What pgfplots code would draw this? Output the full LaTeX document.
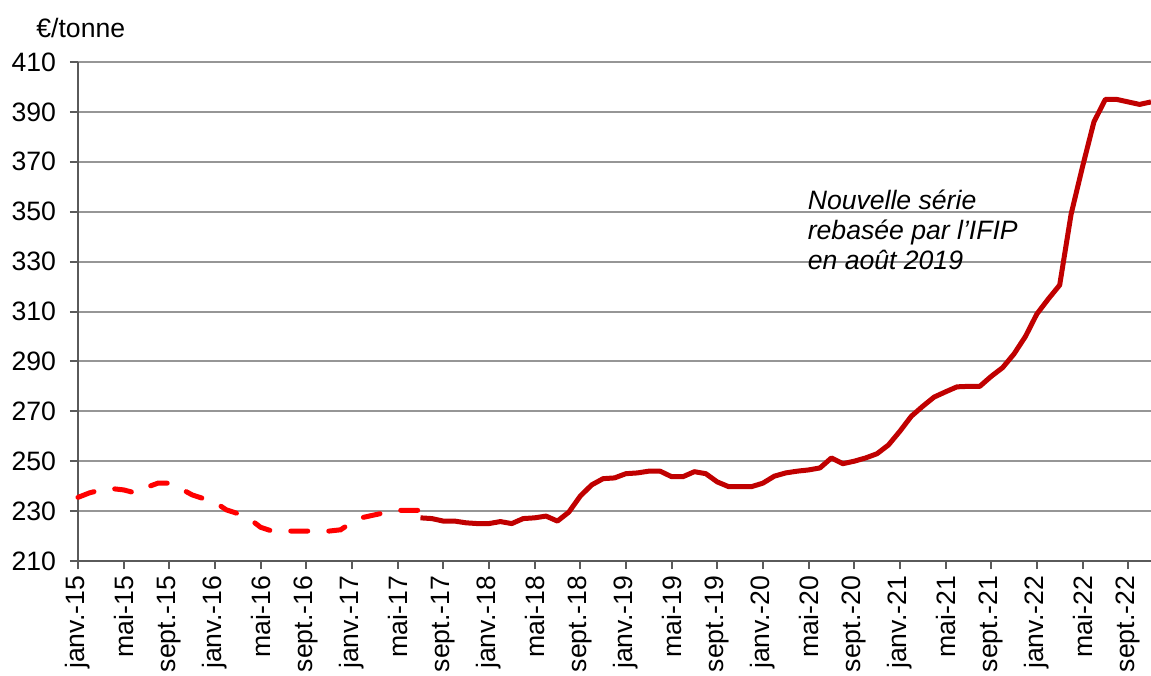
\documentclass[border=0pt]{standalone}
\usepackage{pgfplots}
\pgfplotsset{compat=1.18}
\usepackage{fontspec}
\setmainfont{Liberation Sans}
\definecolor{darkred}{RGB}{192,0,0}
\definecolor{gridgray}{RGB}{150,150,150}
\definecolor{axisgray}{RGB}{90,90,90}
\begin{document}
\begin{tikzpicture}
\path[use as bounding box] (-39pt,-57pt) rectangle (536.5pt,280.5pt);
\begin{axis}[
    at={(0,0)}, anchor=south west,
    scale only axis,
    width=536.5pt, height=249.5pt,
    xmin=0, xmax=94,
    ymin=210, ymax=410,
    axis x line*=bottom, axis y line*=left,
    axis line style={axisgray, line width=1pt, -},
    ytick={210,230,...,410},
    ymajorgrids,
    grid style={gridgray, line width=1pt},
    xtick={0,4,...,92},
    xticklabels={janv.-15,mai-15,sept.-15,janv.-16,mai-16,sept.-16,janv.-17,mai-17,sept.-17,janv.-18,mai-18,sept.-18,janv.-19,mai-19,sept.-19,janv.-20,mai-20,sept.-20,janv.-21,mai-21,sept.-21,janv.-22,mai-22,sept.-22},
    tick align=outside,
    major tick length=4pt,
    tick style={axisgray, line width=1pt},
    tick label style={font=\fontsize{13.3}{16}\selectfont, black},
    /pgf/number format/assume math mode=true,
    yticklabel style={xshift=-3.5pt},
    xticklabel style={rotate=90, anchor=east},
    clip=false,
]
% ancienne série (pointillés)
\addplot[red, line width=2.5pt, line cap=round, dash pattern=on 8.5pt off 10.5pt] coordinates {
(0,235.5) (1,237.3) (2,238.5) (3,239) (4,238.5) (5,237.3) (6,239.5) (7,241.2)
(8,241.2) (9,239) (10,236.5) (11,235) (12,233.5) (13,230.5) (14,229) (15,227)
(16,223.5) (17,222) (18,222) (19,222) (20,222) (21,222) (22,222) (23,222.5)
(24,225.5) (25,227.5) (26,228.5) (27,229.5) (28,230.3) (29,230.3) (30,230.3)
};
% nouvelle série IFIP
\addplot[darkred, line width=2.5pt, line join=round] coordinates {
(30,227.3) (31,227) (32,226) (33,226) (34,225.3) (35,225) (36,225) (37,225.8)
(38,225) (39,227) (40,227.3) (41,228) (42,226) (43,229.6) (44,236) (45,240.5)
(46,243) (47,243.3) (48,245) (49,245.3) (50,246) (51,246) (52,243.8) (53,243.8)
(54,245.8) (55,245) (56,241.7) (57,239.8) (58,239.8) (59,239.8) (60,241.2) (61,244)
(62,245.3) (63,246) (64,246.5) (65,247.3) (66,251.3) (67,249) (68,250) (69,251.3)
(70,253) (71,256.5) (72,262) (73,268) (74,272) (75,275.7) (76,277.8) (77,279.8)
(78,280) (79,280) (80,284) (81,287.5) (82,293) (83,300) (84,309) (85,315)
(86,320.6) (87,349) (88,368) (89,386) (90,395) (91,395) (92,394) (93,393) (94,394)
};
\node[anchor=north west, align=left, inner sep=0pt, font=\fontsize{13.3}{15}\selectfont\itshape]
  at (axis cs:63.9,359) {Nouvelle série\\rebasée par l{\char"0027}IFIP\\en août 2019};
\end{axis}
\node[anchor=west, inner sep=0pt, font=\fontsize{13.3}{16}\selectfont] at (-21pt,266.5pt) {€/tonne};
\end{tikzpicture}
\end{document}
